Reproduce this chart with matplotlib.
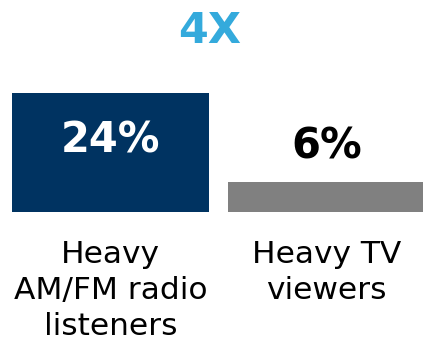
import matplotlib
matplotlib.use('Agg')
import matplotlib.pyplot as plt

categories = ['Heavy\nAM/FM radio\nlisteners', 'Heavy TV\nviewers']
values = [24, 6]
value_labels = ['24%', '6%']
headline = '4X'

bar_colors = ['#003361', '#808080']
label_colors = ['white', 'black']

fig = plt.figure(figsize=(4.23, 3.44), dpi=100)
# axes cover the bar area only; text below is placed with clip_on=False
ax = fig.add_axes([0, 132 / 344, 1, 148.8 / 344])

x = range(len(values))
ax.bar(x, values, width=0.912, color=bar_colors)
ax.set_xlim(-0.5116, -0.5116 + 423 / 216)
ax.set_ylim(0, 30)
ax.axis('off')

# value labels: inside the tall bar, above the short one
label_y = [values[0] / 2 + 2.5, values[1] + 7.3]
for i, (lbl, ly) in enumerate(zip(value_labels, label_y)):
    ax.text(i, ly, lbl, ha='center', va='center', fontsize=30,
            fontweight='bold', color=label_colors[i])

for i, cat in enumerate(categories):
    ax.text(i, -5.6, cat, ha='center', va='top', fontsize=22.5,
            linespacing=1.3, color='black', clip_on=False)

fig.text(210 / 423, 1 - 31 / 344, headline, ha='center', va='center',
         fontsize=31, fontweight='bold', color='#34aadc')

fig.savefig('out.png', dpi=100)
